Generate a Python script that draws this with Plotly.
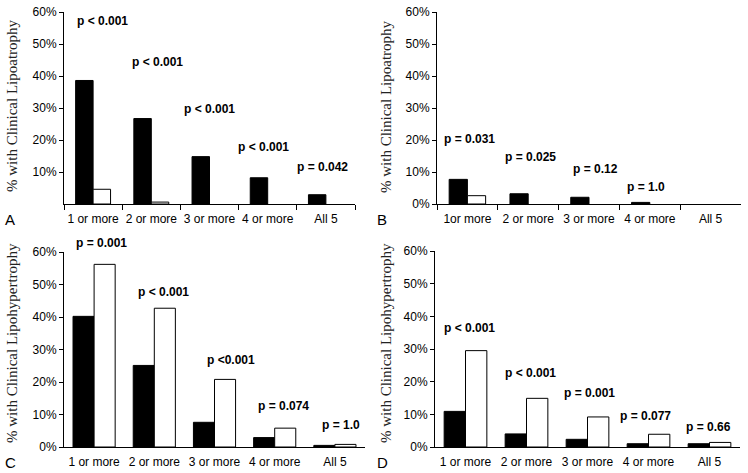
import plotly.graph_objects as go

categories = ["1 or more", "2 or more", "3 or more", "4 or more", "All 5"]
categories_b = ["1or more", "2 or more", "3 or more", "4 or more", "All 5"]

a_black = [38.6, 26.7, 14.8, 8.2, 2.9]
a_white = [4.6, 0.6, None, None, None]
b_black = [7.7, 3.2, 2.1, 0.5, None]
b_white = [2.6, None, None, None, None]
c_black = [40.2, 25.1, 7.6, 2.9, 0.5]
c_white = [56.2, 42.7, 20.8, 5.8, 0.8]
d_black = [10.9, 4.0, 2.35, 1.0, 1.0]
d_white = [29.5, 14.9, 9.2, 3.9, 1.4]

a_p = ["p < 0.001", "p < 0.001", "p < 0.001", "p < 0.001", "p = 0.042"]
b_p = ["p = 0.031", "p = 0.025", "p = 0.12", "p = 1.0"]
c_p = ["p = 0.001", "p < 0.001", "p <0.001", "p = 0.074", "p = 1.0"]
d_p = ["p < 0.001", "p < 0.001", "p = 0.001", "p = 0.077", "p = 0.66"]

ytick_vals_a = [10, 20, 30, 40, 50, 60]
ytick_vals = [0, 10, 20, 30, 40, 50, 60]
Y_MAX = 60

# annotation positions (category index, y %)
a_pos = [(0.17, 57.2), (1.1, 44.4), (2.0, 29.7), (2.92, 17.8), (3.95, 11.6)]
b_pos = [(0.03, 20.3), (1.04, 14.7), (2.1, 10.9), (2.94, 5.3)]
c_pos = [(0.13, 62.8), (1.15, 47.7), (2.27, 26.8), (3.15, 12.6), (4.1, 6.8)]
d_pos = [(0.07, 36.4), (1.07, 22.6), (2.03, 16.5), (2.95, 9.5), (3.98, 6.1)]

W, H = 748, 473

def px_x(v):
    return v / W

def px_y(v):
    return 1 - v / H

panels = [
    ("A", "x", "y", categories, a_black, a_white, a_p, a_pos,
     [px_x(64), px_x(355)], [px_y(204), px_y(12)], ytick_vals_a, True, 0.3,
     "% with Clinical Lipoatrophy"),
    ("B", "x2", "y2", categories_b, b_black, b_white, b_p, b_pos,
     [px_x(437), px_x(741)], [px_y(204), px_y(12)], ytick_vals, True, 0.3,
     "% with Clinical Lipoatrophy"),
    ("C", "x3", "y3", categories, c_black, c_white, c_p, c_pos,
     [px_x(64), px_x(365)], [px_y(447), px_y(252)], ytick_vals, False, 0.35,
     "% with Clinical Lipohypertrophy"),
    ("D", "x4", "y4", categories, d_black, d_white, d_p, d_pos,
     [px_x(435), px_x(740)], [px_y(447), px_y(251)], ytick_vals, False, 0.35,
     "% with Clinical Lipohypertrophy"),
]

fig = go.Figure()
annotations = []
layout = {}
letter_pos = {"A": (10, 219), "B": (382, 219), "C": (10, 462), "D": (382, 462)}
title_pos = {"A": (12, 106), "B": (386, 106), "C": (12, 343), "D": (386, 343)}

for name, xa, ya, cats, blk, wht, pv, ppos, xdom, ydom, yt, xt, bw, ttl in panels:
    fig.add_trace(go.Bar(x=cats, y=blk, xaxis=xa, yaxis=ya, width=bw, offset=-bw,
                         marker=dict(color="black", line=dict(color="black", width=1)),
                         showlegend=False, hoverinfo="skip"))
    fig.add_trace(go.Bar(x=cats, y=wht, xaxis=xa, yaxis=ya, width=bw, offset=0,
                         marker=dict(color="white", line=dict(color="black", width=1)),
                         showlegend=False, hoverinfo="skip"))
    xk = "xaxis" + xa[1:]
    yk = "yaxis" + ya[1:]
    layout[xk] = dict(
        domain=xdom, anchor=ya, type="category", categoryorder="array",
        categoryarray=cats, range=[-0.5, 4.5], automargin=False, tickangle=0,
        showline=True, linecolor="black", linewidth=1,
        ticks="outside", tickson="boundaries", ticklen=5, ticklabelstandoff=4,
        tickcolor="black" if xt else "rgba(0,0,0,0)",
        tickfont=dict(family="Liberation Sans, Arial", size=12, color="black"),
        showgrid=False, zeroline=False, fixedrange=True,
    )
    layout[yk] = dict(
        domain=ydom, anchor=xa, range=[0, Y_MAX], automargin=False,
        tickvals=yt, ticktext=[f"{v}%" for v in yt],
        showline=True, linecolor="black", linewidth=1,
        ticks="outside", ticklen=4, tickcolor="black",
        tickfont=dict(family="Liberation Sans, Arial", size=12, color="black"),
        showgrid=False, zeroline=False, fixedrange=True,
    )
    for txt, (px_, py_) in zip(pv, ppos):
        annotations.append(dict(
            x=px_, y=py_ / Y_MAX, xref=xa, yref=ya + " domain", text=txt, showarrow=False,
            font=dict(family="Liberation Sans, Arial", size=12, color="black", weight="bold"),
            xanchor="center", yanchor="middle",
        ))
    lx, ly = letter_pos[name]
    annotations.append(dict(
        x=px_x(lx), y=px_y(ly), xref="paper", yref="paper", text=name,
        showarrow=False, xanchor="center", yanchor="middle",
        font=dict(family="Liberation Sans, Arial", size=15, color="black"),
    ))
    tx, ty = title_pos[name]
    annotations.append(dict(
        x=px_x(tx), y=px_y(ty), xref="paper", yref="paper", text=ttl,
        showarrow=False, xanchor="center", yanchor="middle", textangle=-90,
        font=dict(family="Liberation Serif, Times New Roman, serif", size=15, color="#222"),
    ))

fig.update_layout(
    width=W, height=H,
    margin=dict(l=0, r=0, t=0, b=0, autoexpand=False),
    paper_bgcolor="white", plot_bgcolor="white",
    barmode="overlay",
    annotations=annotations,
    **layout,
)

fig.write_html(
    "out.html",
    config={"displayModeBar": False, "staticPlot": True},
    post_script="document.body.style.margin='0';document.body.style.overflow='hidden';",
)
